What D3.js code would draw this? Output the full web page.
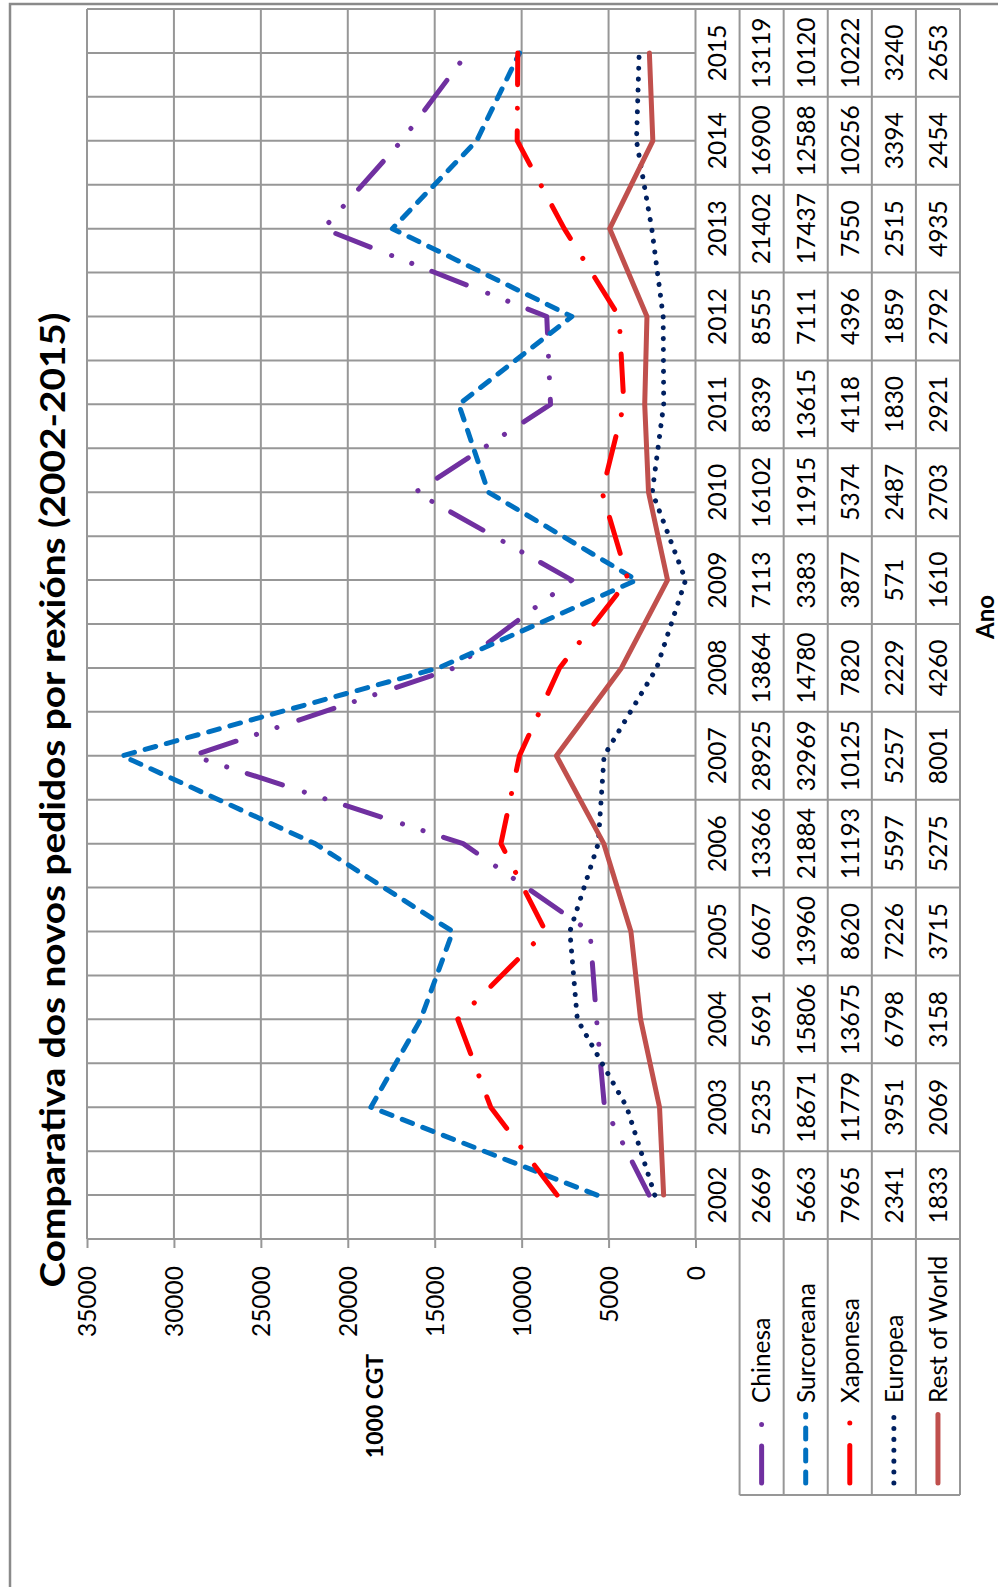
<!DOCTYPE html>
<html>
<head>
<meta charset="utf-8">
<script src="https://cdn.jsdelivr.net/npm/d3@7"></script>
<style>
  body { margin: 0; background: #fff; }
  svg { display: block; }
</style>
</head>
<body>
<script>
// Years on the category axis
const years = ["2002","2003","2004","2005","2006","2007","2008","2009","2010","2011","2012","2013","2014","2015"];

// New orders (1000 CGT) by region
const chinesa     = [2669, 5235, 5691, 6067, 13366, 28925, 13864, 7113, 16102, 8339, 8555, 21402, 16900, 13119];
const surcoreana  = [5663, 18671, 15806, 13960, 21884, 32969, 14780, 3383, 11915, 13615, 7111, 17437, 12588, 10120];
const xaponesa    = [7965, 11779, 13675, 8620, 11193, 10125, 7820, 3877, 5374, 4118, 4396, 7550, 10256, 10222];
const europea     = [2341, 3951, 6798, 7226, 5597, 5257, 2229, 571, 2487, 1830, 1859, 2515, 3394, 3240];
const restOfWorld = [1833, 2069, 3158, 3715, 5275, 8001, 4260, 1610, 2703, 2921, 2792, 4935, 2454, 2653];

const seriesNames = ["Chinesa", "Surcoreana", "Xaponesa", "Europea", "Rest of World"];
const yTicks = [0, 5000, 10000, 15000, 20000, 25000, 30000, 35000];

const title = "Comparativa dos novos pedidos por rexións (2002-2015)";
const yTitle = "1000 CGT";
const xTitle = "Ano";

// Line styles per series
const styles = [
  { color: "#7030A0", dash: "37 21.5 0.1 21.5 0.1 23", width: 5 },
  { color: "#0070C0", dash: "11 11", width: 5 },
  { color: "#FF0000", dash: "37.5 22.5 0.1 23.5", width: 5 },
  { color: "#002060", dash: "0.1 10.8", width: 5 },
  { color: "#C0504D", dash: null, width: 5 }
];

const series = [chinesa, surcoreana, xaponesa, europea, restOfWorld].map((values, i) => ({
  name: seriesNames[i], values, style: styles[i]
}));

// The chart is laid out landscape (W x H) and turned a quarter turn onto the portrait page.
const W = 1587, H = 998;
const FONT = "Lato, 'Open Sans', 'DejaVu Sans', sans-serif";
const GRID = "#979797";

const svg = d3.select("body").append("svg")
  .attr("width", 998).attr("height", 1587);

const g = svg.append("g")
  .attr("transform", `translate(0,${W}) rotate(-90)`);

// Chart frame
g.append("rect")
  .attr("x", -40).attr("y", 10)
  .attr("width", 1583 + 40).attr("height", 1100)
  .attr("fill", "#fff").attr("stroke", "#8a8a8a").attr("stroke-width", 2.5);

const plotLeft = 348, plotRight = 1578, plotTop = 87, plotBottom = 695.5;
const tableBottom = 960, legendLeft = 92;

const x = d3.scaleBand().domain(years).range([plotLeft, plotRight]);
const y = d3.scaleLinear().domain([0, 35000]).range([plotBottom, plotTop]);
const cx = yr => x(yr) + x.bandwidth() / 2;

// Table rows: year header + one row per series
const rows = d3.scaleBand().domain(["year", ...seriesNames]).range([plotBottom, tableBottom]);

// Value gridlines
g.append("g").selectAll("line").data(yTicks).join("line")
  .attr("x1", plotLeft).attr("x2", plotRight)
  .attr("y1", d => y(d)).attr("y2", d => y(d))
  .attr("stroke", GRID).attr("stroke-width", 2);

// Category gridlines: boundaries run through the data table, centres stop at the axis
const bounds = years.map(yr => x(yr)).concat([plotRight]);
g.append("g").selectAll("line").data(bounds).join("line")
  .attr("x1", d => d).attr("x2", d => d)
  .attr("y1", plotTop).attr("y2", tableBottom)
  .attr("stroke", GRID).attr("stroke-width", 2);
g.append("g").selectAll("line").data(years).join("line")
  .attr("x1", d => cx(d)).attr("x2", d => cx(d))
  .attr("y1", plotTop).attr("y2", plotBottom)
  .attr("stroke", GRID).attr("stroke-width", 2);

// Table horizontal rules
const rowEdges = ["year", ...seriesNames].map(r => rows(r) + rows.bandwidth());
g.append("g").selectAll("line").data(rowEdges).join("line")
  .attr("x1", (d, i) => i === rowEdges.length ? plotLeft : legendLeft)
  .attr("x2", plotRight)
  .attr("y1", d => d).attr("y2", d => d)
  .attr("stroke", GRID).attr("stroke-width", 2);
// Legend column left edge
g.append("line")
  .attr("x1", legendLeft).attr("x2", legendLeft)
  .attr("y1", rows("Chinesa")).attr("y2", tableBottom)
  .attr("stroke", GRID).attr("stroke-width", 2);

// Value axis
const yAxis = g.append("g")
  .attr("transform", `translate(${plotLeft},0)`)
  .call(d3.axisLeft(y).tickValues(yTicks).tickSizeInner(9).tickSizeOuter(0).tickPadding(18).tickFormat(d3.format("d")));
yAxis.select(".domain").remove();
yAxis.selectAll(".tick line").attr("stroke", GRID).attr("stroke-width", 2);
yAxis.selectAll(".tick text")
  .attr("font-family", FONT).attr("font-size", 24.5).attr("fill", "#000").attr("dy", "0.36em");

// Axis line continues through the data table
g.append("line")
  .attr("x1", plotLeft).attr("x2", plotLeft)
  .attr("y1", plotTop).attr("y2", tableBottom)
  .attr("stroke", GRID).attr("stroke-width", 2);

// Data table text
g.append("g").selectAll("text").data(years).join("text")
  .attr("x", d => cx(d)).attr("y", rows("year") + rows.bandwidth() / 2)
  .attr("dy", "0.36em").attr("text-anchor", "middle")
  .attr("font-family", FONT).attr("font-size", 24.5).attr("fill", "#000")
  .text(d => d);

series.forEach(s => {
  g.append("g").selectAll("text").data(s.values).join("text")
    .attr("x", (d, i) => cx(years[i])).attr("y", rows(s.name) + rows.bandwidth() / 2)
    .attr("dy", "0.36em").attr("text-anchor", "middle")
    .attr("font-family", FONT).attr("font-size", 24.5).attr("fill", "#000")
    .text(d => d);
});

// Series lines
const line = d3.line()
  .x((d, i) => cx(years[i]))
  .y(d => y(d));

series.forEach(s => {
  g.append("path")
    .datum(s.values)
    .attr("d", line)
    .attr("fill", "none")
    .attr("stroke", s.style.color)
    .attr("stroke-width", s.style.width)
    .attr("stroke-linecap", "round")
    .attr("stroke-linejoin", "round")
    .attr("stroke-dasharray", s.style.dash);
});

// Legend keys and labels inside the table
series.forEach(s => {
  const cy = rows(s.name) + rows.bandwidth() / 2;
  g.append("line")
    .attr("x1", 104).attr("x2", 172.5)
    .attr("y1", cy).attr("y2", cy)
    .attr("stroke", s.style.color)
    .attr("stroke-width", s.style.width)
    .attr("stroke-linecap", "round")
    .attr("stroke-dasharray", s.style.dash);
  g.append("text")
    .attr("x", 184).attr("y", cy).attr("dy", "0.36em")
    .attr("font-family", FONT).attr("font-size", 24.5).attr("fill", "#000")
    .text(s.name);
});

// Titles
g.append("text")
  .attr("x", 787).attr("y", 64.5)
  .attr("text-anchor", "middle")
  .attr("font-family", FONT).attr("font-weight", 700).attr("font-size", 35)
  .attr("textLength", 975).attr("lengthAdjust", "spacingAndGlyphs")
  .attr("fill", "#000")
  .text(title);

g.append("text")
  .attr("x", 181).attr("y", 383)
  .attr("text-anchor", "middle")
  .attr("font-family", FONT).attr("font-weight", 700).attr("font-size", 23)
  .attr("fill", "#000")
  .text(yTitle);

g.append("text")
  .attr("x", 970).attr("y", 994)
  .attr("text-anchor", "middle")
  .attr("font-family", FONT).attr("font-weight", 700).attr("font-size", 24)
  .attr("fill", "#000")
  .text(xTitle);
</script>
</body>
</html>
